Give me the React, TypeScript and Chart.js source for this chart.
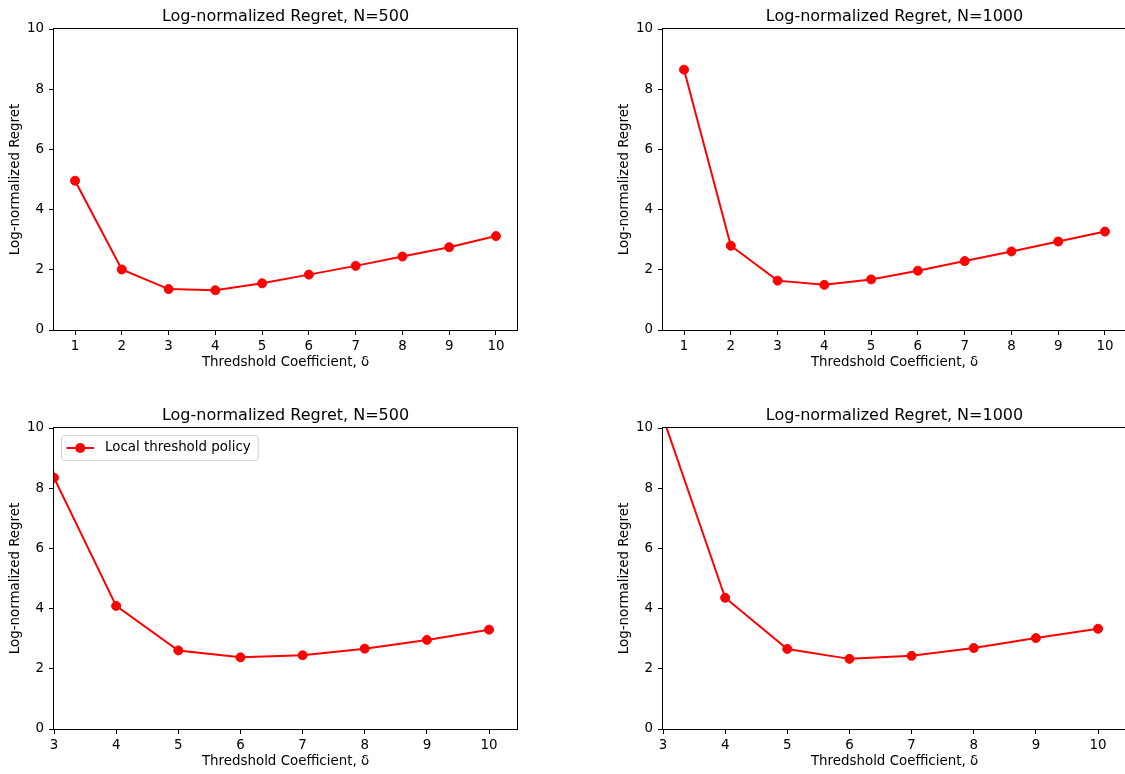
import React, { useEffect, useRef } from "react";
import { Chart, registerables } from "chart.js";

Chart.register(...registerables);

// ---------- data ----------
const deltaFull = [1, 2, 3, 4, 5, 6, 7, 8, 9, 10];
const regretN500 = [4.96, 2.01, 1.36, 1.32, 1.55, 1.84, 2.13, 2.44, 2.75, 3.12];
const regretN1000 = [8.65, 2.8, 1.64, 1.5, 1.68, 1.97, 2.29, 2.61, 2.94, 3.27];

const deltaLocalN500 = [2, 3, 4, 5, 6, 7, 8, 9, 10];
const regretLocalN500 = [25, 8.35, 4.09, 2.61, 2.38, 2.45, 2.67, 2.96, 3.3];
const deltaLocalN1000 = [3, 4, 5, 6, 7, 8, 9, 10];
const regretLocalN1000 = [10.35, 4.36, 2.66, 2.33, 2.43, 2.69, 3.02, 3.33];

const yTickValues = [0, 2, 4, 6, 8, 10];
const xTicksFull = [1, 2, 3, 4, 5, 6, 7, 8, 9, 10];
const xTicksLocal = [3, 4, 5, 6, 7, 8, 9, 10];

const titleN500 = "Log-normalized Regret, N=500";
const titleN1000 = "Log-normalized Regret, N=1000";
const xAxisLabel = "Thredshold Coefficient, δ";
const yAxisLabel = "Log-normalized Regret";
const legendLabel = "Local threshold policy";

const FONT = "'DejaVu Sans', sans-serif";
const RED = "#ff0000";

type PanelProps = {
  left: number;
  top: number;
  xs: number[];
  ys: number[];
  xMin: number;
  xMax: number;
  xTicks: number[];
  title: string;
  legend?: string;
};

const CW = 560;
const CH = 380;

function Panel(p: PanelProps) {
  const ref = useRef<HTMLCanvasElement | null>(null);

  useEffect(() => {
    const canvas = ref.current;
    if (!canvas) return;

    const decor = {
      id: "decor",
      afterDatasetsDraw(chart: any) {
        const { ctx, chartArea: a } = chart;
        ctx.save();
        ctx.strokeStyle = "#000";
        ctx.lineWidth = 1;
        ctx.strokeRect(a.left - 0.5, a.top - 0.5, a.right - a.left + 1, a.bottom - a.top + 1);
        // title
        ctx.fillStyle = "#000";
        ctx.font = `16px ${FONT}`;
        ctx.textAlign = "center";
        ctx.textBaseline = "alphabetic";
        ctx.fillText(p.title, (a.left + a.right) / 2, a.top - 8);
        // legend
        if (p.legend) {
          const fs = 13.4;
          ctx.font = `${fs}px ${FONT}`;
          const tw = ctx.measureText(p.legend).width;
          const bx = a.left + 7;
          const by = a.top + 7;
          const bh = 25;
          const bw = 5.5 + 27.5 + 11 + tw + 7;
          ctx.beginPath();
          if ((ctx as any).roundRect) (ctx as any).roundRect(bx + 0.5, by + 0.5, bw, bh, 3);
          else ctx.rect(bx + 0.5, by + 0.5, bw, bh);
          ctx.fillStyle = "rgba(255,255,255,0.8)";
          ctx.fill();
          ctx.strokeStyle = "#d0d0d0";
          ctx.lineWidth = 1;
          ctx.stroke();
          const cy = by + bh / 2 + 0.5;
          const lx0 = bx + 5.5;
          const lx1 = lx0 + 27.5;
          ctx.strokeStyle = RED;
          ctx.lineWidth = 2;
          ctx.beginPath();
          ctx.moveTo(lx0, cy);
          ctx.lineTo(lx1, cy);
          ctx.stroke();
          ctx.fillStyle = RED;
          ctx.beginPath();
          ctx.arc((lx0 + lx1) / 2, cy, 5, 0, Math.PI * 2);
          ctx.fill();
          ctx.fillStyle = "#000";
          ctx.textAlign = "left";
          ctx.textBaseline = "middle";
          ctx.fillText(p.legend, lx1 + 11, cy);
        }
        ctx.restore();
      },
    };

    const points = p.xs.map((x, i) => ({ x, y: p.ys[i] }));

    const chart = new Chart(canvas, {
      type: "line",
      data: {
        datasets: [
          {
            label: p.legend || "series",
            data: points,
            borderColor: RED,
            backgroundColor: RED,
            borderWidth: 2,
            pointRadius: 4.5,
            pointBorderWidth: 1,
            pointBackgroundColor: RED,
            pointBorderColor: RED,
            tension: 0,
            fill: false,
            clip: 0,
          } as any,
        ],
      },
      options: {
        responsive: false,
        animation: false,
        devicePixelRatio: 1,
        layout: { padding: { left: 0, right: 43, top: 29, bottom: 0 } },
        plugins: {
          legend: { display: false },
          title: { display: false },
          tooltip: { enabled: false },
        },
        events: [],
        scales: {
          x: {
            type: "linear",
            min: p.xMin,
            max: p.xMax,
            afterBuildTicks: (s: any) => {
              s.ticks = p.xTicks.map((v) => ({ value: v }));
            },
            afterFit: (s: any) => {
              s.height = 50;
            },
            border: { display: false },
            grid: {
              display: true,
              drawOnChartArea: false,
              drawTicks: true,
              tickLength: 5,
              tickColor: "#000",
              tickWidth: 1,
            },
            ticks: {
              color: "#000",
              font: { family: FONT, size: 13.4 },
              padding: 3,
              maxRotation: 0,
              autoSkip: false,
              callback: (v: any) => String(v),
            },
            title: {
              display: true,
              text: xAxisLabel,
              color: "#000",
              font: { family: FONT, size: 13.4 },
              padding: { top: 0, bottom: 9 },
            },
          },
          y: {
            type: "linear",
            min: 0,
            max: 10,
            afterBuildTicks: (s: any) => {
              s.ticks = yTickValues.map((v) => ({ value: v }));
            },
            afterFit: (s: any) => {
              s.width = 54;
            },
            border: { display: false },
            grid: {
              display: true,
              drawOnChartArea: false,
              drawTicks: true,
              tickLength: 5,
              tickColor: "#000",
              tickWidth: 1,
            },
            ticks: {
              color: "#000",
              font: { family: FONT, size: 13.4 },
              padding: 5,
              autoSkip: false,
              callback: (v: any) => String(v),
            },
            title: {
              display: true,
              text: yAxisLabel,
              color: "#000",
              font: { family: FONT, size: 13.4 },
              padding: { top: 7, bottom: 0 },
            },
          },
        },
      },
      plugins: [decor],
    });

    return () => chart.destroy();
  }, []);

  return (
    <canvas
      ref={ref}
      width={CW}
      height={CH}
      style={{ position: "absolute", left: p.left, top: p.top, width: CW, height: CH }}
    />
  );
}

export default function App() {
  return (
    <div
      style={{
        position: "absolute",
        left: 0,
        top: 0,
        width: 1125,
        height: 774,
        overflow: "hidden",
        background: "#fff",
      }}
    >
      <Panel left={0} top={0} xs={deltaFull} ys={regretN500} xMin={0.55} xMax={10.45} xTicks={xTicksFull} title={titleN500} />
      <Panel left={609} top={0} xs={deltaFull} ys={regretN1000} xMin={0.55} xMax={10.45} xTicks={xTicksFull} title={titleN1000} />
      <Panel
        left={0}
        top={399}
        xs={deltaLocalN500}
        ys={regretLocalN500}
        xMin={3}
        xMax={10.45}
        xTicks={xTicksLocal}
        title={titleN500}
        legend={legendLabel}
      />
      <Panel left={609} top={399} xs={deltaLocalN1000} ys={regretLocalN1000} xMin={3} xMax={10.45} xTicks={xTicksLocal} title={titleN1000} />
    </div>
  );
}
